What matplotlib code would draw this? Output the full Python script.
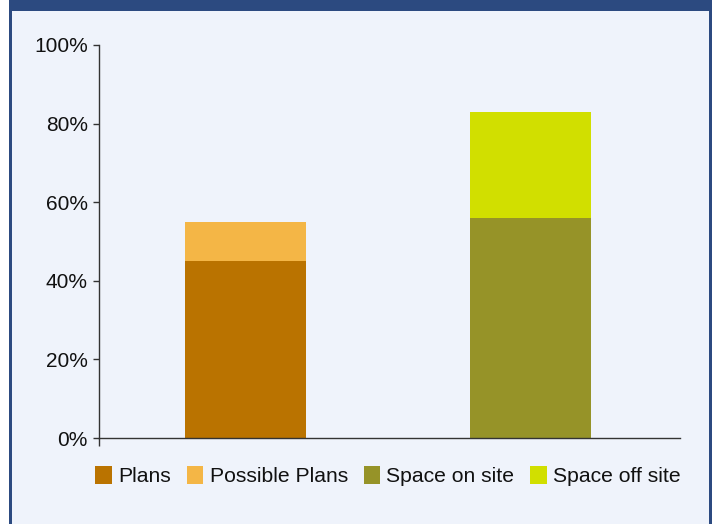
import matplotlib
matplotlib.use("Agg")
import matplotlib.pyplot as plt
from matplotlib.patches import Rectangle, Patch
from matplotlib.ticker import FuncFormatter

# Data
categories = ["Plans", "Space"]
bottom_labels = ["Plans", "Space on site"]
top_labels = ["Possible Plans", "Space off site"]
bottom_values = [45, 56]
top_values = [10, 27]
bottom_colors = ["#BA7300", "#969328"]
top_colors = ["#F4B646", "#D1DF00"]
yticks = [0, 20, 40, 60, 80, 100]

W, H = 715, 524
fig = plt.figure(figsize=(W / 100, H / 100), dpi=100)
fig.patch.set_facecolor("white")

navy = "#2C4A80"
panel = "#EFF3FB"
# panel background
fig.add_artist(Rectangle((10 / W, 0), 700 / W, 1, transform=fig.transFigure,
                         facecolor=panel, edgecolor="none", zorder=-3))
# header bar
fig.add_artist(Rectangle((10 / W, (H - 11) / H), 702 / W, 11 / H, transform=fig.transFigure,
                         facecolor=navy, edgecolor="none", zorder=-2))
# side borders
fig.add_artist(Rectangle((9 / W, 0), 2.5 / W, 1, transform=fig.transFigure,
                         facecolor=navy, edgecolor="none", zorder=-2))
fig.add_artist(Rectangle((709 / W, 0), 2.5 / W, 1, transform=fig.transFigure,
                         facecolor=navy, edgecolor="none", zorder=-2))

ax = fig.add_axes([99 / W, 86 / H, (680 - 99) / W, (438 - 45) / H])
ax.set_facecolor("none")

x = list(range(len(categories)))
width = 0.425
ax.bar(x, bottom_values, width=width, color=bottom_colors, zorder=2)
ax.bar(x, top_values, width=width, bottom=bottom_values, color=top_colors, zorder=2)

ax.set_xlim(-0.514, 1.525)
ax.set_ylim(0, 100)
ax.set_yticks(yticks)
ax.yaxis.set_major_formatter(FuncFormatter(lambda v, p: f"{int(v)}%"))
ax.set_xticks([-0.514])
ax.set_xticklabels([""])
ax.tick_params(axis="x", direction="out", length=5.8, width=1.0, color="#333333")
ax.tick_params(axis="y", direction="out", length=4.5, width=1.0, color="#333333",
               labelsize=15, pad=3.5, labelcolor="#111111")
for lbl in ax.get_yticklabels():
    lbl.set_family(["Liberation Sans", "DejaVu Sans"])

for s in ["top", "right"]:
    ax.spines[s].set_visible(False)
for s in ["left", "bottom"]:
    ax.spines[s].set_color("#333333")
    ax.spines[s].set_linewidth(1.0)

handles = [Patch(facecolor=bottom_colors[0]), Patch(facecolor=top_colors[0]),
           Patch(facecolor=bottom_colors[1]), Patch(facecolor=top_colors[1])]
labels = [bottom_labels[0], top_labels[0], bottom_labels[1], top_labels[1]]
leg = fig.legend(handles, labels, loc="center", ncol=4,
                 bbox_to_anchor=(388 / W, (H - 476) / H), frameon=False,
                 prop={"family": ["Liberation Sans", "DejaVu Sans"], "size": 15.2},
                 handlelength=0.78, handleheight=0.9, handletextpad=0.3,
                 columnspacing=0.75, borderpad=0, borderaxespad=0)
for t in leg.get_texts():
    t.set_color("#111111")

fig.savefig("out.png", dpi=100, facecolor=fig.get_facecolor())
